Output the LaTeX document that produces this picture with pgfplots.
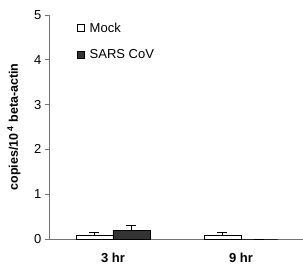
\documentclass[border=0pt]{standalone}
\usepackage{pgfplots}
\pgfplotsset{compat=1.18}
\usepackage{fontspec}
\setmainfont{Liberation Sans}
\definecolor{axiscol}{gray}{0.45}
\definecolor{darkbar}{gray}{0.2}
\begin{document}
\begin{tikzpicture}
\begin{axis}[
  scale only axis,
  width=254pt, height=224pt,
  xmin=-0.5, xmax=1.485,
  ymin=0, ymax=5,
  axis lines*=left,
  axis line style={axiscol, line width=0.8pt},
  ytick={0,1,2,3,4,5},
  tick align=outside,
  major tick length=4pt,
  tick style={axiscol, line width=0.8pt},
  xtick={0,1},
  xticklabels={3 hr, 9 hr},
  major x tick style={draw=none},
  extra x ticks={-0.5,0.5,1.5},
  extra x tick labels={},
  extra x tick style={major tick length=4.5pt, tick style={axiscol, line width=0.8pt}},
  /pgf/number format/assume math mode=true,
  ticklabel style={font=\fontsize{13}{15}\selectfont},
  xticklabel style={font=\fontsize{13}{15}\selectfont\bfseries, yshift=-9pt, inner sep=1pt},
  ylabel={copies/10\,\textsuperscript{4} beta-actin},
  ylabel style={font=\fontsize{12.5}{15}\selectfont\bfseries, at={(axis description cs:-0.138,0.5)}, anchor=center},
  ybar, bar width=0.289,
  legend style={draw=none, fill=none, at={(axis description cs:0.11,0.975)}, anchor=north west,
    font=\fontsize{13}{15}\selectfont, row sep=12pt, inner sep=0pt,
    nodes={inner xsep=2pt}},
  legend cell align=left,
  legend image code/.code={\draw[#1, line width=0.6pt] (0pt,-3.5pt) rectangle (7pt,3.5pt); \path (10pt,0pt);},
  clip=false,
]
\addplot[bar shift=-0.1445, draw=black, line width=0.6pt, fill=white,
  error bars/.cd, y dir=plus, y explicit,
  error bar style={black, line width=0.6pt},
  error mark options={black, line width=0.6pt, mark size=5pt, rotate=90}]
  coordinates {(0,0.083) +- (0,0.057) (1,0.083) +- (0,0.057)};
\addplot[bar shift=0.1445, draw=black, line width=0.6pt, fill=darkbar,
  error bars/.cd, y dir=plus, y explicit,
  error bar style={black, line width=0.6pt},
  error mark options={black, line width=0.6pt, mark size=5pt, rotate=90}]
  coordinates {(0,0.195) +- (0,0.115) (1,0.0) +- (0,0)};
\legend{Mock, SARS CoV}
\end{axis}
\pgfresetboundingbox
\path (current axis.south west) ++(-49pt,-27pt) rectangle ([yshift=15pt]current axis.north east);
\end{tikzpicture}
\end{document}
